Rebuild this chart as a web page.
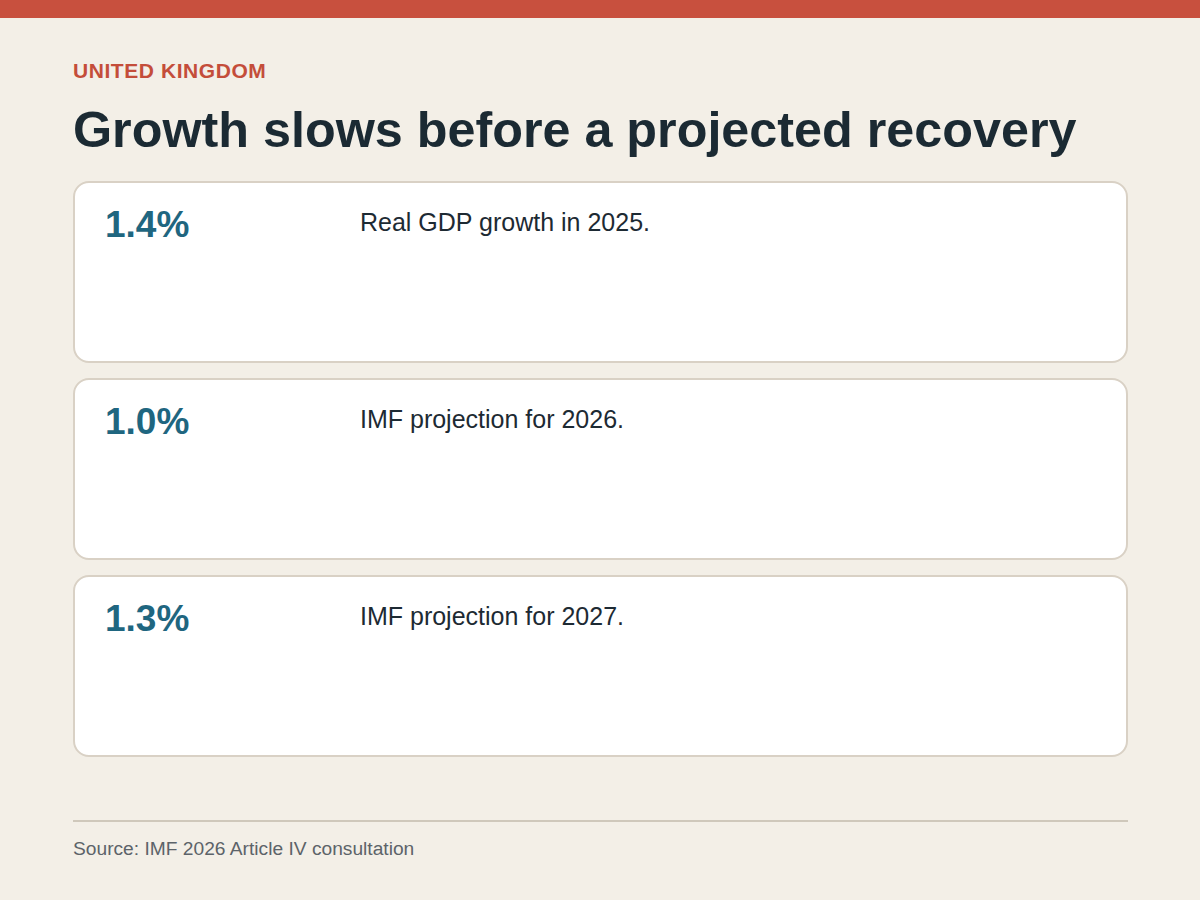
<!DOCTYPE html>
<html>
<head>
<meta charset="utf-8">
<script src="https://cdn.jsdelivr.net/npm/chart.js@4"></script>
<style>
  html, body { margin: 0; padding: 0; }
  body {
    width: 1200px; height: 900px; overflow: hidden;
    background: #f3efe7;
    font-family: "Liberation Sans", Arial, sans-serif;
  }
  .topbar { height: 18px; background: #c8503e; }
  .wrap { padding: 0 72px 0 73px; }
  .kicker {
    margin-top: 41px; font-size: 21px; line-height: 24px; font-weight: bold;
    letter-spacing: 0.56px; color: #c44d3a;
  }
  h1 {
    margin: 17px 0 0 0; font-size: 50.3px; line-height: 60px; font-weight: bold;
    color: #1b2a33;
  }
  .cards { margin-top: 21px; }
  .card {
    box-sizing: border-box; height: 182px; margin-bottom: 15px;
    background: #fff; border: 2px solid #d9d1c5; border-radius: 16px;
    display: flex; align-items: flex-start; padding: 20px 27px 0 30px;
  }
  .card:last-child { margin-bottom: 0; }
  .card .val {
    width: 255px; flex: none; font-size: 37px; line-height: 44px;
    font-weight: bold; color: #1f6680;
  }
  .card .desc {
    margin-top: 4px; font-size: 25px; line-height: 30px; color: #1d2a33;
  }
  .rule { margin-top: 63px; height: 2px; background: #cfc8bb; }
  .source {
    margin-top: 16px; font-size: 19.2px; line-height: 22px; color: #5c6369;
  }
</style>
</head>
<body>
<div class="topbar"></div>
<div class="wrap">
  <div class="kicker" id="kicker"></div>
  <h1 id="title"></h1>
  <div class="cards" id="cards"></div>
  <div class="rule"></div>
  <div class="source" id="source"></div>
</div>
<script>
// figures
const kicker = "UNITED KINGDOM";
const title = "Growth slows before a projected recovery";
const years = [2025, 2026, 2027];
const growth = [1.4, 1.0, 1.3];
const notes = ["Real GDP growth in 2025.", "IMF projection for 2026.", "IMF projection for 2027."];
const source = "Source: IMF 2026 Article IV consultation";

document.getElementById("kicker").textContent = kicker;
document.getElementById("title").textContent = title;
document.getElementById("source").textContent = source;

const box = document.getElementById("cards");
years.forEach((y, i) => {
  const card = document.createElement("div");
  card.className = "card";
  card.dataset.year = y;
  const v = document.createElement("div");
  v.className = "val";
  v.textContent = growth[i].toFixed(1) + "%";
  const d = document.createElement("div");
  d.className = "desc";
  d.textContent = notes[i];
  card.appendChild(v);
  card.appendChild(d);
  box.appendChild(card);
});
</script>
</body>
</html>
